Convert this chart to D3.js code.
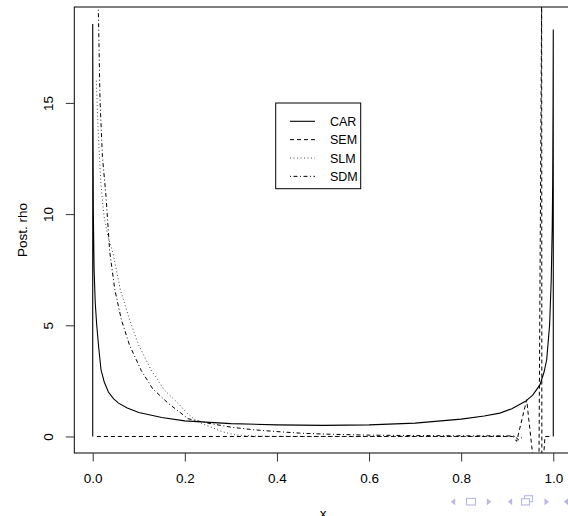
<!DOCTYPE html>
<html>
<head>
<meta charset="utf-8">
<script src="https://cdn.jsdelivr.net/npm/d3@7/dist/d3.min.js"></script>
<style>
  body { margin: 0; background: #fff; }
  svg { display: block; }
  text { font-family: "Liberation Sans", Arial, Helvetica, sans-serif; fill: #000; }
</style>
</head>
<body>
<div id="chart"></div>
<script>
// values (posterior densities of rho)
const carX = [0, 0, 0.0005, 0.0014, 0.003, 0.0055, 0.0087, 0.013, 0.018, 0.025, 0.034, 0.045, 0.056, 0.075, 0.1, 0.15, 0.2, 0.3, 0.4, 0.5, 0.6, 0.7, 0.8, 0.85, 0.884, 0.91, 0.9386, 0.955, 0.971, 0.98, 0.9857, 0.992, 0.9955, 0.9978, 0.9987, 0.9995, 1, 1]
const carY = [0, 18.55, 15, 10, 7.5, 6, 5, 4, 3, 2.45, 2, 1.7, 1.5, 1.28, 1.08, 0.85, 0.7, 0.58, 0.52, 0.5, 0.52, 0.6, 0.78, 0.92, 1.05, 1.25, 1.57, 1.85, 2.32, 2.9, 3.45, 5, 7, 9.5, 11.5, 15, 18.3, 0]

const semX = [0.009, 0.912, 0.9205, 0.9423, 0.9457, 0.9545, 0.958, 0.969, 0.9748, 0.9752, 0.979, 0.982, 0.993]
const semY = [0, 0, -0.22, 1.65, 0.98, -0.67, -0.9, -0.9, 19.8, -0.9, -0.9, 0, 0]

const slmX = [0.0078, 0.012, 0.018, 0.0246, 0.033, 0.044, 0.06, 0.08, 0.1, 0.127, 0.155, 0.185, 0.205, 0.222, 0.24, 0.26, 0.28, 0.31, 0.35, 0.4, 0.6, 0.8, 0.93]
const slmY = [16.0, 13.6, 11.3, 9.9, 9.0, 8.25, 6.6, 5.25, 4.1, 2.98, 2.1, 1.5, 1.05, 0.75, 0.55, 0.4, 0.22, 0.07, 0.02, 0.005, 0, 0, 0]

const sdmX = [0.0122, 0.0158, 0.021, 0.0289, 0.0369, 0.048, 0.0622, 0.08, 0.1053, 0.13, 0.1635, 0.207, 0.25, 0.3, 0.35, 0.4, 0.45, 0.5, 0.6, 0.7, 0.8, 0.9, 0.915, 0.925, 0.935]
const sdmY = [19.19, 15.15, 12.6, 10.79, 8.3, 6.6, 5.25, 4.1, 2.97, 2.15, 1.5, 0.8, 0.6, 0.42, 0.3, 0.22, 0.15, 0.11, 0.06, 0.04, 0.03, 0.03, 0.02, -0.15, 0]

const seriesNames = ["CAR", "SEM", "SLM", "SDM"]
const xTicks = [0, 0.2, 0.4, 0.6, 0.8, 1.0]
const yTicks = [0, 5, 10, 15]
const xLab = "x"
const yLab = "Post. rho"

const W = 568, H = 516
const box = { left: 74.3, top: 7, right: 571.7, bottom: 453 }

// R style 4% axis extension
const xlim = [0, 1], ylim = [0, 18.57]
const xPad = (xlim[1] - xlim[0]) * 0.04, yPad = (ylim[1] - ylim[0]) * 0.04

const x = d3.scaleLinear().domain([xlim[0] - xPad, xlim[1] + xPad]).range([box.left, box.right])
const y = d3.scaleLinear().domain([ylim[0] - yPad, ylim[1] + yPad]).range([box.bottom, box.top])

const svg = d3.select("#chart").append("svg")
    .attr("width", W)
    .attr("height", H)

svg.append("clipPath").attr("id", "plotclip")
  .append("rect")
    .attr("x", box.left).attr("y", box.top)
    .attr("width", box.right - box.left).attr("height", box.bottom - box.top)

const series = [
  { name: "CAR", xs: carX, ys: carY, dash: null, width: 1.1, color: "#000" },
  { name: "SEM", xs: semX, ys: semY, dash: "4,3", width: 1, color: "#000" },
  { name: "SLM", xs: slmX, ys: slmY, dash: "1,2.5", width: 0.9, color: "#333" },
  { name: "SDM", xs: sdmX, ys: sdmY, dash: "1,2.5,4,2.5", width: 1, color: "#000" }
]

const line = d3.line().x(d => x(d[0])).y(d => y(d[1]))

const plot = svg.append("g").attr("clip-path", "url(#plotclip)")
series.forEach(s => {
  plot.append("path")
    .datum(d3.zip(s.xs, s.ys))
    .attr("fill", "none")
    .attr("stroke", s.color)
    .attr("stroke-width", s.width)
    .attr("stroke-dasharray", s.dash)
    .attr("d", line)
})

// box
svg.append("rect")
  .attr("x", box.left).attr("y", box.top)
  .attr("width", box.right - box.left).attr("height", box.bottom - box.top)
  .attr("fill", "none").attr("stroke", "#000").attr("stroke-width", 1)

// axes
const xAxis = svg.append("g")
  .attr("transform", "translate(0," + box.bottom + ")")
  .call(d3.axisBottom(x).tickValues(xTicks).tickFormat(d3.format(".1f")).tickSize(8.5).tickPadding(12))
xAxis.select(".domain").remove()
xAxis.selectAll("line").attr("stroke", "#333")
xAxis.selectAll("text").attr("font-size", 13.5).attr("fill", "#000")
  .attr("font-family", "Liberation Sans, Arial, sans-serif")

const yAxis = svg.append("g")
  .attr("transform", "translate(" + box.left + ",0)")
  .call(d3.axisLeft(y).tickValues(yTicks).tickSize(8.5).tickFormat(d3.format("d")))
yAxis.select(".domain").remove()
yAxis.selectAll("line").attr("stroke", "#333")
yAxis.selectAll("text")
  .attr("font-size", 13.5).attr("fill", "#000")
  .attr("font-family", "Liberation Sans, Arial, sans-serif")
  .attr("x", 0).attr("dy", 0)
  .attr("text-anchor", "middle")
  .attr("transform", "translate(-21,0) rotate(-90)")

// axis titles
svg.append("text")
  .attr("x", (box.left + box.right) / 2).attr("y", 518)
  .attr("text-anchor", "middle").attr("font-size", 13.5)
  .text(xLab)
svg.append("text")
  .attr("transform", "translate(27," + ((box.top + box.bottom) / 2) + ") rotate(-90)")
  .attr("text-anchor", "middle").attr("font-size", 13.5)
  .text(yLab)

// legend
const leg = svg.append("g")
leg.append("rect")
  .attr("x", 275.7).attr("y", 103).attr("width", 85).attr("height", 85.7)
  .attr("fill", "#fff").attr("stroke", "#000").attr("stroke-width", 1)
series.forEach((s, i) => {
  const ly = 121.3 + i * 18.35
  leg.append("line")
    .attr("x1", 290).attr("x2", 315).attr("y1", ly).attr("y2", ly)
    .attr("stroke", s.color).attr("stroke-width", s.width)
    .attr("stroke-dasharray", s.dash)
  leg.append("text")
    .attr("x", 330).attr("y", ly + 4.5)
    .attr("font-size", 12.5)
    .text(seriesNames[i])
})

// beamer navigation symbols, bottom right
const nav = svg.append("g").attr("fill", "#b8b8e6").attr("stroke", "#b8b8e6")
const ny = 501.7
function tri(cx, dir) {
  nav.append("path")
    .attr("stroke", "none")
    .attr("d", d3.line()([[cx - 2.2 * dir, ny], [cx + 2.2 * dir, ny - 3.5], [cx + 2.2 * dir, ny + 3.5]]) + "Z")
}
tri(453, 1)
nav.append("rect").attr("x", 466.5).attr("y", ny - 3.3).attr("width", 9).attr("height", 6.6)
  .attr("fill", "none").attr("stroke-width", 1.1)
tri(489, -1)
tri(510, 1)
nav.append("rect").attr("x", 524.5).attr("y", ny - 6).attr("width", 8).attr("height", 6)
  .attr("fill", "#fff").attr("stroke-width", 1.1)
nav.append("rect").attr("x", 521.5).attr("y", ny - 3).attr("width", 8).attr("height", 6.3)
  .attr("fill", "#fff").attr("stroke-width", 1.1)
tri(546.7, -1)
tri(566, 1)
</script>
</body>
</html>
